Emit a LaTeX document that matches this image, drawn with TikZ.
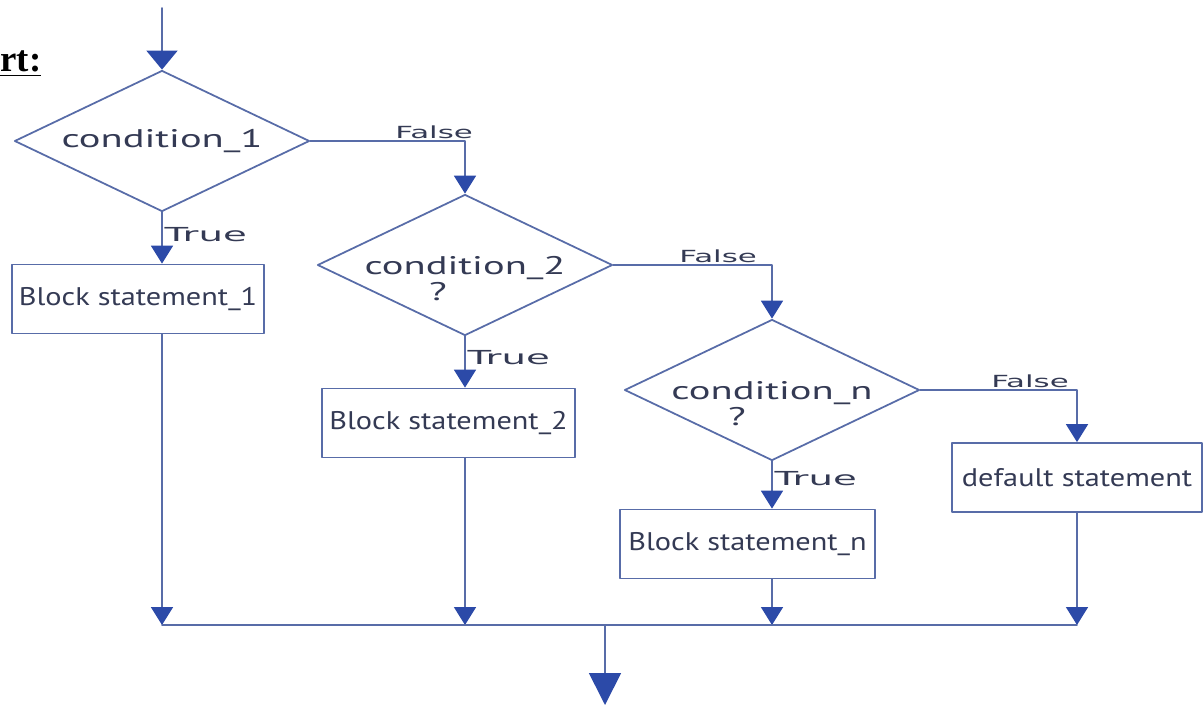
\documentclass[tikz,border=0pt]{standalone}
\usepackage{fontspec}
\usetikzlibrary{shapes.geometric,arrows.meta}
\newfontfamily\condfont[FakeStretch=1.59]{PT Sans}
\newfontfamily\stmtfont[FakeStretch=1.19]{PT Sans}
\newfontfamily\truefont[FakeStretch=2.0]{DejaVu Sans}
\newfontfamily\falsefont[FakeStretch=1.85]{DejaVu Sans}
\newfontfamily\headfont{Liberation Serif}
\definecolor{flowline}{RGB}{88,108,168}
\definecolor{flowtip}{RGB}{44,74,168}
\definecolor{flowtext}{RGB}{52,58,84}
\tikzset{
  decision/.style={diamond,draw=flowline,line width=1pt,aspect=2,
    inner xsep=-1cm,inner ysep=-0.6cm,
    minimum width=5.9cm,minimum height=2.82cm,text=flowtext,align=center,
    font=\condfont\fontsize{14.5}{14.5}\selectfont},
  blockbox/.style={rectangle,draw=flowline,line width=1pt,minimum height=1.38cm,
    inner xsep=1pt,text=flowtext,font=\stmtfont\fontsize{14.5}{16}\selectfont},
  link/.style={draw=flowline,line width=1pt},
  flow/.style={link,-{Triangle[width=0.44cm,length=0.36cm,color=flowtip]}},
  topflow/.style={link,-{Triangle[width=0.62cm,length=0.38cm,color=flowtip]}},
  exitflow/.style={link,-{Triangle[width=0.64cm,length=0.64cm,color=flowtip]}},
  truelabel/.style={text=flowtext,inner sep=1pt,font=\truefont\fontsize{11}{12}\selectfont},
  falselabel/.style={text=flowtext,inner sep=1pt,font=\falsefont\fontsize{9.5}{11}\selectfont}
}
\begin{document}
\begin{tikzpicture}[line cap=round,line join=round]
  \useasboundingbox (0,0) rectangle (24.08,-14.18);
  \node[anchor=base west,inner sep=0pt,font=\headfont\bfseries\fontsize{21}{24}\selectfont] (title) at (0,-1.44) {\underline{rt:}};
  % decisions
  \node[decision] (d1) at (3.24,-2.82) {condition\_1};
  \node[decision] (d2) at (9.30,-5.30) {\strut\\condition\_2\\?\hspace*{1.08cm}};
  \node[decision] (dn) at (15.44,-7.80) {\strut\\condition\_n\\?\hspace*{1.4cm}};
  % statements
  \node[blockbox,minimum width=5.04cm] (b1) at (2.76,-5.98) {Block statement\_1};
  \node[blockbox,minimum width=5.06cm] (b2) at (8.97,-8.46) {Block statement\_2};
  \node[blockbox,minimum width=5.1cm] (bn) at (14.95,-10.88) {Block statement\_n};
  \node[blockbox,minimum width=5.0cm] (bdef) at (21.54,-9.55) {default statement};
  \coordinate (start) at (3.24,-0.16);
  \coordinate (merge) at (12.1,-12.5);
  \coordinate (exit) at (12.1,-14.1);
  \draw[topflow] (start) -- (d1.north);
  \draw[flow] (d1.south) -- node[truelabel,pos=0.44,anchor=west] {True} (d1.south |- b1.north);
  \draw[flow] (d2.south) -- node[truelabel,pos=0.42,anchor=west] {True} (d2.south |- b2.north);
  \draw[flow] (dn.south) -- node[truelabel,pos=0.36,anchor=west] {True} (dn.south |- bn.north);
  \draw[flow] (d1.east) -| node[falselabel,pos=0.4,anchor=south] {False} (d2.north);
  \draw[flow] (d2.east) -| node[falselabel,pos=0.33,anchor=south] {False} (dn.north);
  \draw[flow] (dn.east) -| node[falselabel,pos=0.35,anchor=south] {False} (bdef.north);
  % merge
  \draw[flow] (d1 |- b1.south) -- (d1 |- merge);
  \draw[flow] (d2 |- b2.south) -- (d2 |- merge);
  \draw[flow] (dn |- bn.south) -- (dn |- merge);
  \draw[flow] (bdef.south) -- (bdef |- merge);
  \draw[link] (d1 |- merge) -- (bdef |- merge);
  \draw[exitflow] (merge) -- (exit);
\end{tikzpicture}
\end{document}
